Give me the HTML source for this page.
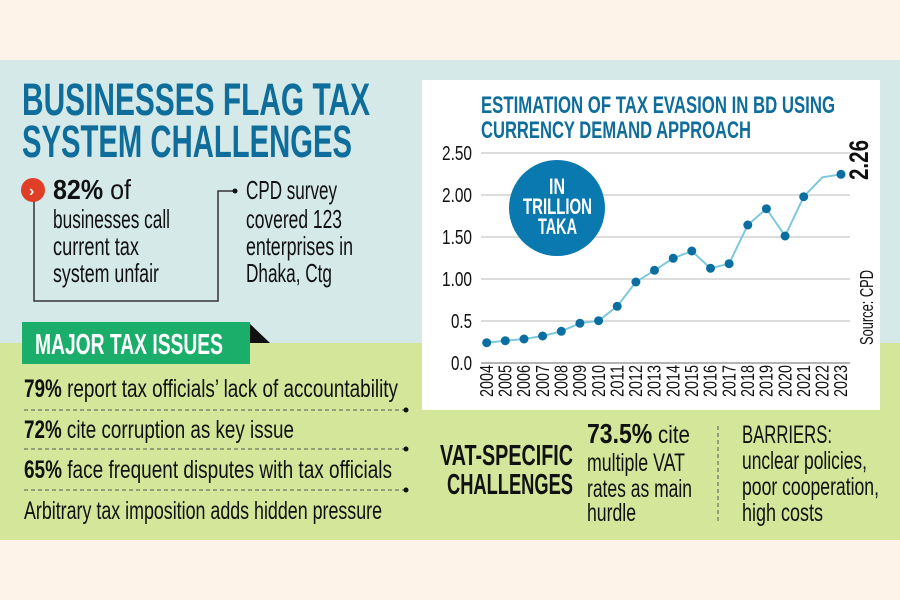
<!DOCTYPE html>
<html><head><meta charset="utf-8"><style>
html,body{margin:0;padding:0;width:900px;height:600px;overflow:hidden;background:#fdf3e8}
svg{display:block}
text{font-family:"Liberation Sans Narrow","Liberation Sans",sans-serif}
</style></head><body>
<svg width="900" height="600" viewBox="0 0 900 600" xmlns="http://www.w3.org/2000/svg">
<rect x="0" y="0" width="900" height="600" fill="#fdf3e8"/>
<rect x="0" y="60" width="900" height="284" fill="#d5e9e8"/>
<rect x="0" y="343" width="900" height="197" fill="#d4e699"/>
<g font-weight="bold" fill="#0e6d9b" font-size="45">
<text x="22" y="115" textLength="348" lengthAdjust="spacingAndGlyphs">BUSINESSES FLAG TAX</text>
<text x="22" y="157" textLength="330" lengthAdjust="spacingAndGlyphs">SYSTEM CHALLENGES</text>
</g>
<polyline points="34,200 34,301 218,301 218,191 234,191" fill="none" stroke="#333" stroke-width="1.5"/>
<circle cx="235" cy="191" r="2.5" fill="#111"/>
<circle cx="33" cy="190" r="12" fill="#e03e26"/>
<text x="29" y="196" font-size="16" font-weight="bold" fill="#fff">›</text>
<text x="53" y="199" font-size="28" fill="#111" textLength="78" lengthAdjust="spacingAndGlyphs"><tspan font-weight="bold">82%</tspan> of</text>
<g font-size="26" fill="#111">
<text x="53" y="228" textLength="117" lengthAdjust="spacingAndGlyphs">businesses call</text>
<text x="53" y="255" textLength="86" lengthAdjust="spacingAndGlyphs">current tax</text>
<text x="53" y="282" textLength="106" lengthAdjust="spacingAndGlyphs">system unfair</text>
<text x="246" y="199" textLength="91" lengthAdjust="spacingAndGlyphs">CPD survey</text>
<text x="246" y="228" textLength="96" lengthAdjust="spacingAndGlyphs">covered 123</text>
<text x="246" y="255" textLength="107" lengthAdjust="spacingAndGlyphs">enterprises in</text>
<text x="246" y="282" textLength="86" lengthAdjust="spacingAndGlyphs">Dhaka, Ctg</text>
</g>
<polygon points="248,322 270,343 248,343" fill="#111"/>
<rect x="22" y="322" width="228" height="42" fill="#1bae6a"/>
<text x="35" y="354" font-size="29" font-weight="bold" fill="#fff" textLength="188" lengthAdjust="spacingAndGlyphs">MAJOR TAX ISSUES</text>
<g font-size="25" fill="#111">
<text x="24" y="397" textLength="374" lengthAdjust="spacingAndGlyphs"><tspan font-weight="bold">79%</tspan> report tax officials’ lack of accountability</text>
<text x="24" y="438" textLength="270" lengthAdjust="spacingAndGlyphs"><tspan font-weight="bold">72%</tspan> cite corruption as key issue</text>
<text x="24" y="478" textLength="368" lengthAdjust="spacingAndGlyphs"><tspan font-weight="bold">65%</tspan> face frequent disputes with tax officials</text>
<text x="24" y="519" textLength="358" lengthAdjust="spacingAndGlyphs">Arbitrary tax imposition adds hidden pressure</text>
</g>
<g stroke="#555" stroke-width="1" stroke-dasharray="4,3">
<line x1="24" y1="410" x2="404" y2="410"/><line x1="24" y1="449" x2="404" y2="449"/><line x1="24" y1="490" x2="404" y2="490"/>
</g>
<g fill="#111"><circle cx="406" cy="410" r="2.5"/><circle cx="406" cy="449" r="2.5"/><circle cx="406" cy="490" r="2.5"/></g>
<g font-size="29" font-weight="bold" fill="#111">
<text x="440" y="465" textLength="133" lengthAdjust="spacingAndGlyphs">VAT-SPECIFIC</text>
<text x="447" y="494" textLength="126" lengthAdjust="spacingAndGlyphs">CHALLENGES</text>
</g>
<g font-size="25" fill="#111">
<text x="587" y="443" textLength="103" lengthAdjust="spacingAndGlyphs"><tspan font-weight="bold" font-size="28">73.5%</tspan> cite</text>
<text x="587" y="471" textLength="98" lengthAdjust="spacingAndGlyphs">multiple VAT</text>
<text x="587" y="497" textLength="105" lengthAdjust="spacingAndGlyphs">rates as main</text>
<text x="587" y="521" textLength="49" lengthAdjust="spacingAndGlyphs">hurdle</text>
<text x="742" y="443" textLength="90" lengthAdjust="spacingAndGlyphs">BARRIERS:</text>
<text x="742" y="469" textLength="125" lengthAdjust="spacingAndGlyphs">unclear policies,</text>
<text x="742" y="495" textLength="137" lengthAdjust="spacingAndGlyphs">poor cooperation,</text>
<text x="742" y="521" textLength="81" lengthAdjust="spacingAndGlyphs">high costs</text>
</g>
<line x1="718" y1="426" x2="718" y2="522" stroke="#555" stroke-dasharray="4,3"/>
<rect x="422" y="80" width="458" height="330" fill="#fff"/>
<g font-size="24" font-weight="bold" fill="#0e6d9b">
<text x="481" y="113" textLength="354" lengthAdjust="spacingAndGlyphs">ESTIMATION OF TAX EVASION IN BD USING</text>
<text x="481" y="138" textLength="270" lengthAdjust="spacingAndGlyphs">CURRENCY DEMAND APPROACH</text>
</g>
<g stroke="#c8c8c8" stroke-width="1.2">
<line x1="481" y1="153" x2="850" y2="153"/><line x1="481" y1="195" x2="850" y2="195"/><line x1="481" y1="237" x2="850" y2="237"/><line x1="481" y1="279" x2="850" y2="279"/><line x1="481" y1="321" x2="850" y2="321"/>
</g>
<line x1="481" y1="363" x2="850" y2="363" stroke="#888" stroke-width="1.2"/>
<g font-size="20" fill="#111">
<text x="442" y="160" textLength="30" lengthAdjust="spacingAndGlyphs">2.50</text><text x="442" y="202" textLength="30" lengthAdjust="spacingAndGlyphs">2.00</text><text x="442" y="244" textLength="30" lengthAdjust="spacingAndGlyphs">1.50</text><text x="442" y="286" textLength="30" lengthAdjust="spacingAndGlyphs">1.00</text><text x="451" y="328" textLength="21" lengthAdjust="spacingAndGlyphs">0.5</text><text x="451" y="370" textLength="21" lengthAdjust="spacingAndGlyphs">0.0</text>
</g>
<circle cx="557" cy="208" r="48" fill="#0a79b0"/>
<g font-size="22" font-weight="bold" fill="#fff">
<text x="549" y="194" textLength="16" lengthAdjust="spacingAndGlyphs">IN</text><text x="523" y="214" textLength="69" lengthAdjust="spacingAndGlyphs">TRILLION</text><text x="538" y="234" textLength="39" lengthAdjust="spacingAndGlyphs">TAKA</text>
</g>
<polyline fill="none" stroke="#7ec8dc" stroke-width="2" points="486.7,342.7 505.3,340.7 524,339 542.6,336 561.3,331.3 579.9,323.3 598.6,320.7 617.2,306.3 635.9,282 654.5,270.3 673.2,258.3 691.8,251 710.5,268.3 729.1,263.7 747.8,225 766.4,208.7 785.1,236 803.7,196.7 822.4,177.3 841,174.3"/>
<g fill="#0a6fa0">
<circle cx="486.7" cy="342.7" r="4.5"/><circle cx="505.3" cy="340.7" r="4.5"/><circle cx="524" cy="339" r="4.5"/><circle cx="542.6" cy="336" r="4.5"/><circle cx="561.3" cy="331.3" r="4.5"/><circle cx="579.9" cy="323.3" r="4.5"/><circle cx="598.6" cy="320.7" r="4.5"/><circle cx="617.2" cy="306.3" r="4.5"/><circle cx="635.9" cy="282" r="4.5"/><circle cx="654.5" cy="270.3" r="4.5"/><circle cx="673.2" cy="258.3" r="4.5"/><circle cx="691.8" cy="251" r="4.5"/><circle cx="710.5" cy="268.3" r="4.5"/><circle cx="729.1" cy="263.7" r="4.5"/><circle cx="747.8" cy="225" r="4.5"/><circle cx="766.4" cy="208.7" r="4.5"/><circle cx="785.1" cy="236" r="4.5"/><circle cx="803.7" cy="196.7" r="4.5"/><circle cx="841" cy="174.3" r="4.5"/>
</g>
<g font-size="18" fill="#111">
<text transform="translate(493,397) rotate(-90)" textLength="32" lengthAdjust="spacingAndGlyphs">2004</text>
<text transform="translate(511.5,397) rotate(-90)" textLength="32" lengthAdjust="spacingAndGlyphs">2005</text>
<text transform="translate(530.2,397) rotate(-90)" textLength="32" lengthAdjust="spacingAndGlyphs">2006</text>
<text transform="translate(548.8,397) rotate(-90)" textLength="32" lengthAdjust="spacingAndGlyphs">2007</text>
<text transform="translate(567.5,397) rotate(-90)" textLength="32" lengthAdjust="spacingAndGlyphs">2008</text>
<text transform="translate(586.1,397) rotate(-90)" textLength="32" lengthAdjust="spacingAndGlyphs">2009</text>
<text transform="translate(604.8,397) rotate(-90)" textLength="32" lengthAdjust="spacingAndGlyphs">2010</text>
<text transform="translate(623.4,397) rotate(-90)" textLength="32" lengthAdjust="spacingAndGlyphs">2011</text>
<text transform="translate(642.1,397) rotate(-90)" textLength="32" lengthAdjust="spacingAndGlyphs">2012</text>
<text transform="translate(660.7,397) rotate(-90)" textLength="32" lengthAdjust="spacingAndGlyphs">2013</text>
<text transform="translate(679.4,397) rotate(-90)" textLength="32" lengthAdjust="spacingAndGlyphs">2014</text>
<text transform="translate(698,397) rotate(-90)" textLength="32" lengthAdjust="spacingAndGlyphs">2015</text>
<text transform="translate(716.7,397) rotate(-90)" textLength="32" lengthAdjust="spacingAndGlyphs">2016</text>
<text transform="translate(735.3,397) rotate(-90)" textLength="32" lengthAdjust="spacingAndGlyphs">2017</text>
<text transform="translate(754,397) rotate(-90)" textLength="32" lengthAdjust="spacingAndGlyphs">2018</text>
<text transform="translate(772.6,397) rotate(-90)" textLength="32" lengthAdjust="spacingAndGlyphs">2019</text>
<text transform="translate(791.3,397) rotate(-90)" textLength="32" lengthAdjust="spacingAndGlyphs">2020</text>
<text transform="translate(809.9,397) rotate(-90)" textLength="32" lengthAdjust="spacingAndGlyphs">2021</text>
<text transform="translate(828.6,397) rotate(-90)" textLength="32" lengthAdjust="spacingAndGlyphs">2022</text>
<text transform="translate(847.2,397) rotate(-90)" textLength="32" lengthAdjust="spacingAndGlyphs">2023</text>
</g>
<text transform="translate(868,180) rotate(-90)" font-size="27" font-weight="bold" fill="#111" textLength="40" lengthAdjust="spacingAndGlyphs">2.26</text>
<text transform="translate(873,345) rotate(-90)" font-size="18" fill="#111" textLength="75" lengthAdjust="spacingAndGlyphs">Source: CPD</text>
</svg>
</body></html>
